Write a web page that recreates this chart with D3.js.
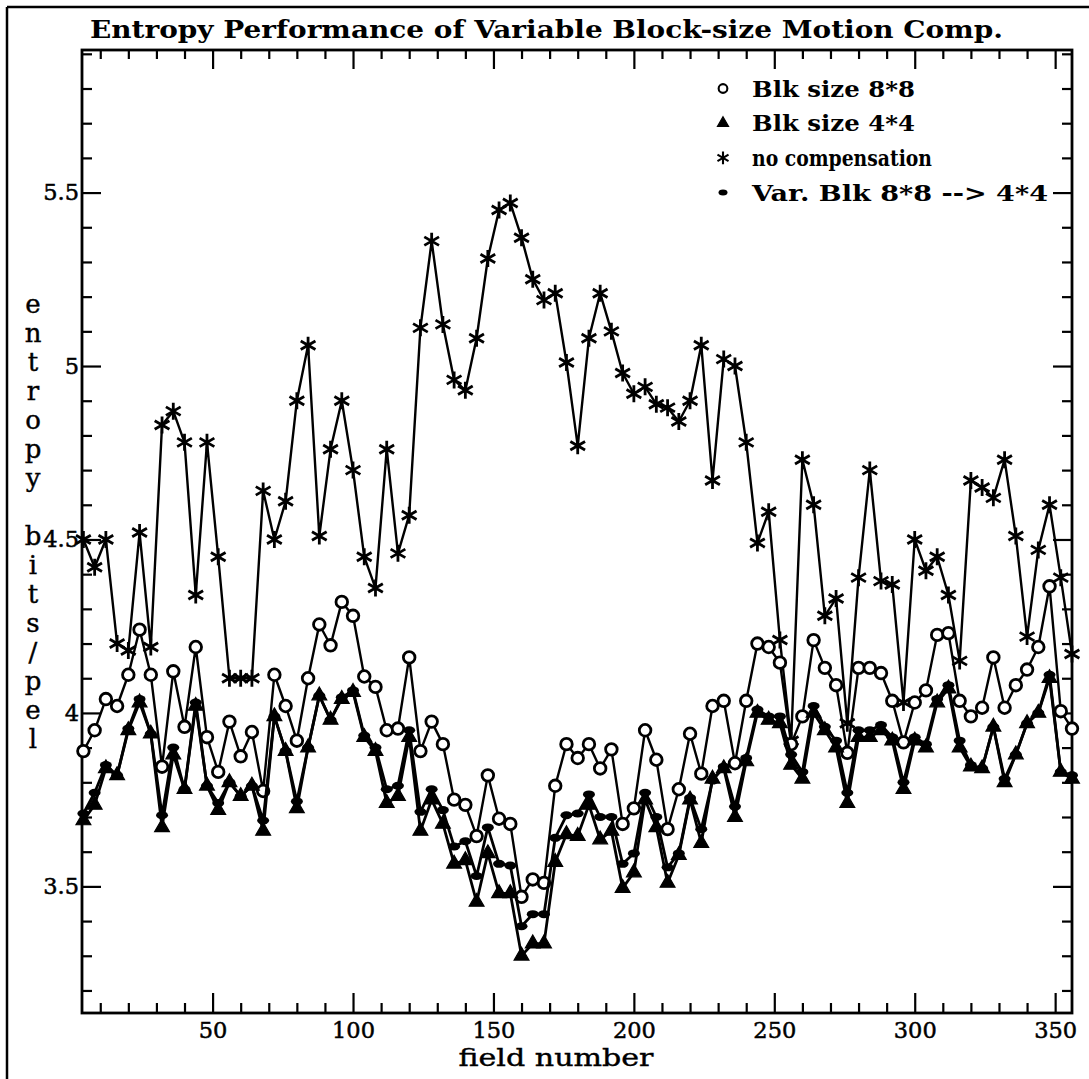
<!DOCTYPE html>
<html>
<head>
<meta charset="utf-8">
<script src="https://cdn.jsdelivr.net/npm/d3@7"></script>
<style>
body{margin:0;background:#fff;}
svg text{font-family:"DejaVu Serif",serif;fill:#000;}
</style>
</head>
<body>
<svg id="chart" width="1089" height="1079"></svg>
<script>
// field numbers (every 4th field)
var fields = [4,8,12,16,20,24,28,32,36,40,44,48,52,56,60,64,68,72,76,80,
  84,88,92,96,100,104,108,112,116,120,124,128,132,136,140,144,148,152,156,160,
  164,168,172,176,180,184,188,192,196,200,204,208,212,216,220,224,228,232,236,240,
  244,248,252,256,260,264,268,272,276,280,284,288,292,296,300,304,308,312,316,320,
  324,328,332,336,340,344,348,352,356];

var blk8 = [3.89,3.95,4.04,4.02,4.11,4.24,4.11,3.845,4.12,3.96,
  4.19,3.93,3.83,3.975,3.875,3.945,3.775,4.11,4.02,3.92,
  4.10,4.255,4.195,4.32,4.28,4.105,4.075,3.95,3.955,4.16,
  3.89,3.975,3.91,3.75,3.735,3.645,3.82,3.695,3.68,3.47,
  3.52,3.51,3.79,3.91,3.87,3.91,3.84,3.895,3.68,3.725,
  3.95,3.865,3.665,3.78,3.94,3.825,4.02,4.035,3.855,4.035,
  4.20,4.19,4.145,3.91,3.99,4.21,4.13,4.08,3.885,4.13,
  4.13,4.115,4.035,3.915,4.03,4.065,4.225,4.23,4.035,3.99,
  4.015,4.16,4.015,4.08,4.125,4.19,4.365,4.005,3.955];

var blk4 = [3.69,3.735,3.84,3.82,3.95,4.03,3.94,3.67,3.88,3.78,
  4.02,3.79,3.72,3.80,3.76,3.79,3.66,3.99,3.89,3.725,
  3.90,4.05,3.98,4.04,4.06,3.93,3.89,3.74,3.76,3.93,
  3.66,3.75,3.68,3.565,3.575,3.455,3.595,3.48,3.48,3.30,
  3.335,3.335,3.57,3.65,3.645,3.735,3.635,3.66,3.495,3.54,
  3.75,3.67,3.51,3.59,3.75,3.625,3.81,3.84,3.70,3.86,
  4.00,3.98,3.97,3.85,3.81,4.00,3.95,3.90,3.74,3.93,
  3.93,3.95,3.92,3.78,3.92,3.90,4.03,4.07,3.90,3.845,
  3.84,3.96,3.80,3.88,3.97,4.00,4.10,3.83,3.81];

var noComp = [4.50,4.42,4.50,4.20,4.18,4.52,4.19,4.83,4.87,4.78,
  4.34,4.78,4.45,4.10,4.10,4.10,4.64,4.50,4.61,4.90,
  5.06,4.51,4.76,4.90,4.70,4.45,4.36,4.76,4.46,4.57,
  5.11,5.36,5.12,4.96,4.93,5.08,5.31,5.45,5.47,5.37,
  5.25,5.19,5.21,5.01,4.77,5.08,5.21,5.10,4.98,4.92,
  4.94,4.89,4.88,4.84,4.90,5.06,4.67,5.02,5.00,4.78,
  4.49,4.58,4.21,3.92,4.73,4.60,4.28,4.33,3.97,4.39,
  4.70,4.38,4.37,4.03,4.50,4.41,4.45,4.34,4.15,4.67,
  4.65,4.62,4.73,4.51,4.22,4.47,4.60,4.39,4.17];

var varBlk = [3.71,3.77,3.85,3.82,3.955,4.04,3.94,3.705,3.90,3.78,
  4.03,3.79,3.74,3.80,3.76,3.79,3.69,3.99,3.89,3.745,
  3.90,4.05,3.98,4.045,4.065,3.935,3.90,3.78,3.79,3.95,
  3.715,3.78,3.72,3.615,3.63,3.53,3.67,3.565,3.56,3.385,
  3.42,3.42,3.64,3.705,3.71,3.765,3.70,3.70,3.565,3.595,
  3.77,3.70,3.555,3.595,3.755,3.665,3.805,3.845,3.73,3.87,
  4.01,3.99,3.99,3.88,3.83,4.02,3.96,3.92,3.77,3.95,
  3.95,3.965,3.93,3.80,3.93,3.91,4.04,4.08,3.92,3.85,
  3.84,3.96,3.81,3.88,3.97,4.00,4.11,3.83,3.82];

var xMajor = [50,100,150,200,250,300,350];
var xMinor = [10,20,30,40,60,70,80,90,110,120,130,140,160,170,180,190,210,220,230,240,
  260,270,280,290,310,320,330,340];
var yMajor = [3.5,4,4.5,5,5.5];
var yMinor = [3.2,3.3,3.4,3.6,3.7,3.8,3.9,4.1,4.2,4.3,4.4,4.6,4.7,4.8,4.9,5.1,5.2,5.3,5.4,5.6,5.7,5.8,5.9];

var legendLabels = ["Blk size 8*8","Blk size 4*4","no compensation","Var. Blk 8*8 --> 4*4"];
var legendRows = [5.8,5.7,5.6,5.5];
var legendWidths = [163,163,180,296];

var titleText = "Entropy Performance of Variable Block-size Motion Comp.";
var yLabel = "entropy bits/pel";

var plot = {left:82, right:1072, top:50, bottom:1013};
var svg = d3.select("#chart");

var x = d3.scaleLinear().domain([3.5,356]).range([plot.left,plot.right]);
var y = d3.scaleLinear().domain([3.135,5.911]).range([plot.bottom,plot.top]);

function starPath(r){
	var p = "";
	[90,30,-30].forEach(function(a){
		var t = a*Math.PI/180, dx = r*Math.cos(t), dy = r*Math.sin(t);
		p += "M"+(-dx)+","+(-dy)+"L"+dx+","+dy;
	})
	return p;
}
function draw_marker(g, kind, cx, cy, s){
	if(kind=="circle"){
		g.append("circle").attr("cx",cx).attr("cy",cy).attr("r",5.8*s)
			.attr("fill","#fff").attr("stroke","#000").attr("stroke-width",2.8*s);
	}
	else if(kind=="tri"){
		g.append("path").attr("d",d3.symbol(d3.symbolTriangle,95*s*s)())
			.attr("transform","translate("+cx+","+cy+")")
			.attr("fill","#000").attr("stroke","#000").attr("stroke-width",1.2);
	}
	else if(kind=="star"){
		g.append("path").attr("d",starPath(8.5*s))
			.attr("transform","translate("+cx+","+cy+")")
			.attr("stroke","#000").attr("stroke-width",2.8*s).attr("fill","none");
	}
	else{
		g.append("ellipse").attr("cx",cx).attr("cy",cy).attr("rx",6*s).attr("ry",4*s)
			.attr("fill","#000");
	}
}
function draw_series(values, kind, width){
	var line = d3.line().x(function(d,i){return x(fields[i])}).y(function(d){return y(d)});
	svg.append("path").datum(values).attr("d",line)
		.attr("fill","none").attr("stroke","#000").attr("stroke-width",width)
		.attr("stroke-linejoin","round");
	var g = svg.append("g");
	values.forEach(function(v,i){ draw_marker(g, kind, x(fields[i]), y(v), 1) })
}
function draw_axes(){
	function style(g){
		g.select(".domain").remove();
		g.selectAll("line").attr("stroke","#000").attr("stroke-width",2.2);
		g.selectAll("text").attr("font-size",22.5).attr("fill","#000").attr("font-family","DejaVu Serif")
			.attr("stroke","#000").attr("stroke-width",0.5);
	}
	svg.append("g").attr("transform","translate(0,"+plot.bottom+")")
		.call(d3.axisBottom(x).tickValues(xMinor).tickSize(-10).tickFormat("")).call(style);
	svg.append("g").attr("transform","translate(0,"+plot.bottom+")")
		.call(d3.axisBottom(x).tickValues(xMajor).tickSize(-20).tickPadding(9).tickFormat(d3.format("d"))).call(style);
	svg.append("g").attr("transform","translate(0,"+plot.top+")")
		.call(d3.axisTop(x).tickValues(xMinor).tickSize(-9).tickFormat("")).call(style);
	svg.append("g").attr("transform","translate(0,"+plot.top+")")
		.call(d3.axisTop(x).tickValues(xMajor).tickSize(-19).tickFormat("")).call(style);
	svg.append("g").attr("transform","translate("+plot.left+",0)")
		.call(d3.axisLeft(y).tickValues(yMinor).tickSize(-10).tickFormat("")).call(style);
	svg.append("g").attr("transform","translate("+plot.left+",0)")
		.call(d3.axisLeft(y).tickValues(yMajor).tickSize(-19).tickPadding(3).tickFormat(function(d){return String(d)})).call(style);
	svg.append("g").attr("transform","translate("+plot.right+",0)")
		.call(d3.axisRight(y).tickValues(yMinor).tickSize(-10).tickFormat("")).call(style);
	svg.append("g").attr("transform","translate("+plot.right+",0)")
		.call(d3.axisRight(y).tickValues(yMajor).tickSize(-19).tickFormat("")).call(style);
	svg.append("rect").attr("x",plot.left).attr("y",plot.top)
		.attr("width",plot.right-plot.left).attr("height",plot.bottom-plot.top)
		.attr("fill","none").attr("stroke","#000").attr("stroke-width",2.8);
}
function draw_text(){
	// outer frame lines
	svg.append("line").attr("x1",7).attr("y1",7).attr("x2",7).attr("y2",1079).attr("stroke","#000").attr("stroke-width",2.5);
	svg.append("line").attr("x1",7).attr("y1",7).attr("x2",1089).attr("y2",7).attr("stroke","#000").attr("stroke-width",2.5);

	svg.append("text").attr("x",90).attr("y",38).attr("font-size",24).attr("font-weight","bold")
		.attr("textLength",913).attr("lengthAdjust","spacingAndGlyphs").text(titleText);

	svg.append("text").attr("x",556).attr("y",1066).attr("font-size",24)
		.attr("stroke","#000").attr("stroke-width",0.4)
		.attr("text-anchor","middle").attr("textLength",195).attr("lengthAdjust","spacingAndGlyphs")
		.text("field number");

	yLabel.split("").forEach(function(ch,i){
		svg.append("text").attr("x",33).attr("y",305+i*29+8).attr("font-size",26)
			.attr("stroke","#000").attr("stroke-width",0.4)
			.attr("text-anchor","middle").text(ch);
	})
}
function draw_legend(){
	var kinds = ["circle","tri","star","var"];
	var g = svg.append("g");
	legendLabels.forEach(function(lab,i){
		var cy = y(legendRows[i]);
		draw_marker(g, kinds[i], 723, cy, 0.75);
		g.append("text").attr("x",752).attr("y",cy+8).attr("font-size",22).attr("font-weight","bold")
			.attr("textLength",legendWidths[i]).attr("lengthAdjust","spacingAndGlyphs").text(lab);
	})
}

draw_axes();
draw_series(noComp,"star",2.4);
draw_series(blk8,"circle",2.4);
draw_series(blk4,"tri",2.8);
draw_series(varBlk,"var",2.8);
draw_legend();
draw_text();
</script>
</body>
</html>
